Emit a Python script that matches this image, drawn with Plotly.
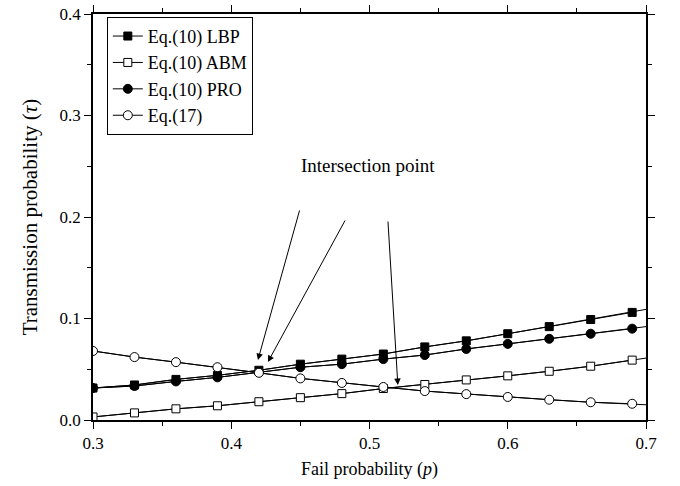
import plotly.graph_objects as go

# Data
p_marks = [0.30, 0.33, 0.36, 0.39, 0.42, 0.45, 0.48, 0.51, 0.54, 0.57, 0.60, 0.63, 0.66, 0.69]
lbp = [0.0315, 0.0345, 0.040, 0.044, 0.049, 0.055, 0.060, 0.065, 0.072, 0.078, 0.085, 0.092, 0.099, 0.106]
abm = [0.003, 0.007, 0.011, 0.014, 0.018, 0.022, 0.026, 0.031, 0.035, 0.0395, 0.0435, 0.048, 0.053, 0.059]
pro = [0.0315, 0.0335, 0.038, 0.042, 0.047, 0.052, 0.055, 0.060, 0.064, 0.070, 0.075, 0.080, 0.085, 0.090]
eq17 = [0.068, 0.062, 0.057, 0.052, 0.0465, 0.041, 0.0365, 0.0325, 0.0285, 0.0255, 0.0227, 0.020, 0.0175, 0.016]
# line end values at p = 0.7
p_end = 0.70
end_vals = {"lbp": 0.109, "abm": 0.061, "pro": 0.092, "eq17": 0.015}

series = [
    ("Eq.(10) LBP", lbp, "lbp", "square", "black", 8),
    ("Eq.(10) ABM", abm, "abm", "square", "white", 8),
    ("Eq.(10) PRO", pro, "pro", "circle", "black", 9),
    ("Eq.(17)", eq17, "eq17", "circle", "white", 9),
]

# arrows: (tail_x, tail_y, head_x, head_y)
arrows = [
    (0.4497, 0.2079, 0.4193, 0.0591),
    (0.4829, 0.1980, 0.4265, 0.0571),
    (0.5133, 0.1970, 0.5205, 0.0345),
]

FONT = "Liberation Serif, Times New Roman, serif"

fig = go.Figure()
for name, vals, key, sym, fill, sz in series:
    fig.add_trace(go.Scatter(
        x=p_marks + [p_end], y=vals + [end_vals[key]], mode="lines",
        line=dict(color="black", width=1), showlegend=False, hoverinfo="skip"))
for name, vals, key, sym, fill, sz in series:
    fig.add_trace(go.Scatter(
        x=p_marks, y=vals, mode="lines+markers", name=name,
        line=dict(color="black", width=1),
        marker=dict(symbol=sym, size=sz, color=fill, line=dict(color="black", width=1))))

annos = []
for tx, ty, hx, hy in arrows:
    annos.append(dict(x=hx, y=hy, ax=tx, ay=ty, xref="x", yref="y", axref="x", ayref="y",
                      showarrow=True, arrowhead=2, arrowsize=1.3, arrowwidth=1, arrowcolor="black",
                      text=""))
annos.append(dict(x=0.4988, y=0.251, xref="x", yref="y", text="Intersection point",
                  showarrow=False, font=dict(family=FONT, size=19, color="black")))

axis_common = dict(
    showline=True, linecolor="black", linewidth=1.5, mirror="allticks",
    ticks="outside", ticklen=7, tickwidth=1, tickcolor="black",
    showgrid=False, zeroline=False, automargin=False,
    tickfont=dict(family=FONT, size=17, color="black"),
    minor=dict(ticks="outside", ticklen=4, tickwidth=1, tickcolor="black", showgrid=False),
)

fig.update_layout(
    width=680, height=486,
    margin=dict(l=93, r=34, t=14, b=66, autoexpand=False),
    paper_bgcolor="white", plot_bgcolor="white",
    font=dict(family=FONT, size=18, color="black"),
    xaxis=dict(range=[0.3, 0.7], dtick=0.1, tick0=0.3, tickformat=".1f",
               title=dict(text="Fail probability (<i>p</i>)", font=dict(family=FONT, size=18), standoff=10),
               **axis_common),
    yaxis=dict(range=[0, 0.4], dtick=0.1, tick0=0, tickformat=".1f",
               title=dict(text="Transmission probability (<i>τ</i>)", font=dict(family=FONT, size=21), standoff=16),
               **axis_common),
    legend=dict(x=0.025, y=0.993, xanchor="left", yanchor="top",
                bordercolor="black", borderwidth=1, bgcolor="white",
                font=dict(family=FONT, size=18, color="black"),
                tracegroupgap=0, itemwidth=30),
    annotations=annos,
    showlegend=True,
)
fig.update_xaxes(minor=dict(dtick=0.05))
fig.update_yaxes(minor=dict(dtick=0.05))

fig.write_html("out.html")
